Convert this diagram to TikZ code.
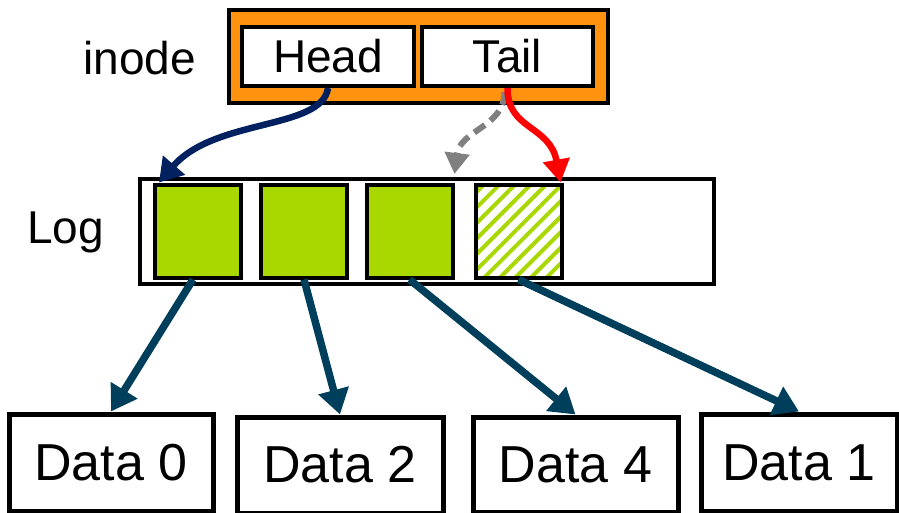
\documentclass[tikz,border=0pt]{standalone}
\usepackage{fontspec}
\setmainfont{Liberation Sans}
\usetikzlibrary{arrows.meta,patterns.meta}
\definecolor{orng}{RGB}{255,147,16}
\definecolor{lgreen}{RGB}{168,216,0}
\definecolor{navy}{RGB}{0,32,96}
\definecolor{teal2}{RGB}{0,63,92}
\definecolor{gry}{RGB}{128,128,128}
\tikzset{
  lbl/.style={font=\fontsize{46}{50}\selectfont, inner sep=0pt, anchor=base},
  fieldbox/.style={draw=black, fill=white, line width=4pt, inner sep=0pt, font=\fontsize{46}{50}\selectfont, minimum height=59pt},
  logbox/.style={draw=black, line width=3.5pt, minimum width=574pt, minimum height=105pt, inner sep=0pt},
  entry/.style={draw=black, fill=lgreen, line width=4pt, minimum width=86pt, minimum height=92pt, inner sep=0pt},
  hentry/.style={draw=black, line width=4pt, minimum width=86pt, minimum height=92pt, inner sep=0pt, pattern={Lines[angle=45,distance=11pt,line width=4pt]}, pattern color=lgreen},
  databox/.style={draw=black, fill=white, line width=5pt, inner sep=0pt, font=\fontsize{52}{56}\selectfont, minimum height=96pt},
  dataarrow/.style={draw=teal2, line width=7.5pt, -{Triangle[length=25pt,width=30pt]}},
}
\begin{document}
\begin{tikzpicture}[x=1pt,y=-1pt]
\useasboundingbox[fill=white] (0,0) rectangle (899,513);

% inode
\node[draw=black, fill=orng, line width=4pt, minimum width=379pt, minimum height=93pt, inner sep=0pt] (inode) at (418.5,56.5) {};
\node[fieldbox, minimum width=172pt] (head) at (328,56.5) {Head};
\node[fieldbox, minimum width=171pt] (tail) at (507.5,56.5) {Tail};
\node[lbl] (inodelbl) at (139.5,75) {inode};

% log
\node[lbl] (loglbl) at (65.5,243) {Log};
\node[logbox] (log) at (427,231.5) {};
\node[entry] (g1) at (198,231.5) {};
\node[entry] (g2) at (304,231.5) {};
\node[entry] (g3) at (409.5,231.5) {};
\node[hentry] (g4) at (518.5,231.5) {};

% data
\node[databox, minimum width=204pt, minimum height=97pt] (d0) at (111,462.5) {Data 0};
\node[databox, minimum width=206pt] (d2) at (340,465) {Data 2};
\node[databox, minimum width=205pt, minimum height=95pt] (d4) at (575.5,464.5) {Data 4};
\node[databox, minimum width=196pt, minimum height=97pt] (d1) at (799,462.5) {Data 1};

% head / tail pointers
\coordinate (headtip) at ([xshift=6pt,yshift=1pt]g1.north west);
\coordinate (tailtip) at ([xshift=-3pt,yshift=1pt]g4.north east);
\coordinate (oldtip) at ([yshift=9.5pt]g3.north east);
\draw[gry, line width=6pt, dash pattern=on 13pt off 7pt, -{Triangle[length=21pt,width=24pt]}]
  ([xshift=-3pt,yshift=-4pt]tail.south) .. controls +(0,35) and (460,130) .. (oldtip);
\draw[navy, line width=6.5pt, -{Triangle[length=23pt,width=28pt]}]
  (head.south) .. controls (322,130) and (215,118) .. (headtip);
\draw[red, line width=6.5pt, -{Triangle[length=23pt,width=26pt]}]
  (tail.south) .. controls (507,130) and (550,125) .. (tailtip);

% data pointers
\draw[dataarrow] ([xshift=-5pt]g1.south) -- (d0.north);
\draw[dataarrow] (g2.south) -- (d2.north);
\draw[dataarrow] (g3.south) -- (d4.north);
\draw[dataarrow] (g4.south) -- (d1.north);
\end{tikzpicture}
\end{document}
